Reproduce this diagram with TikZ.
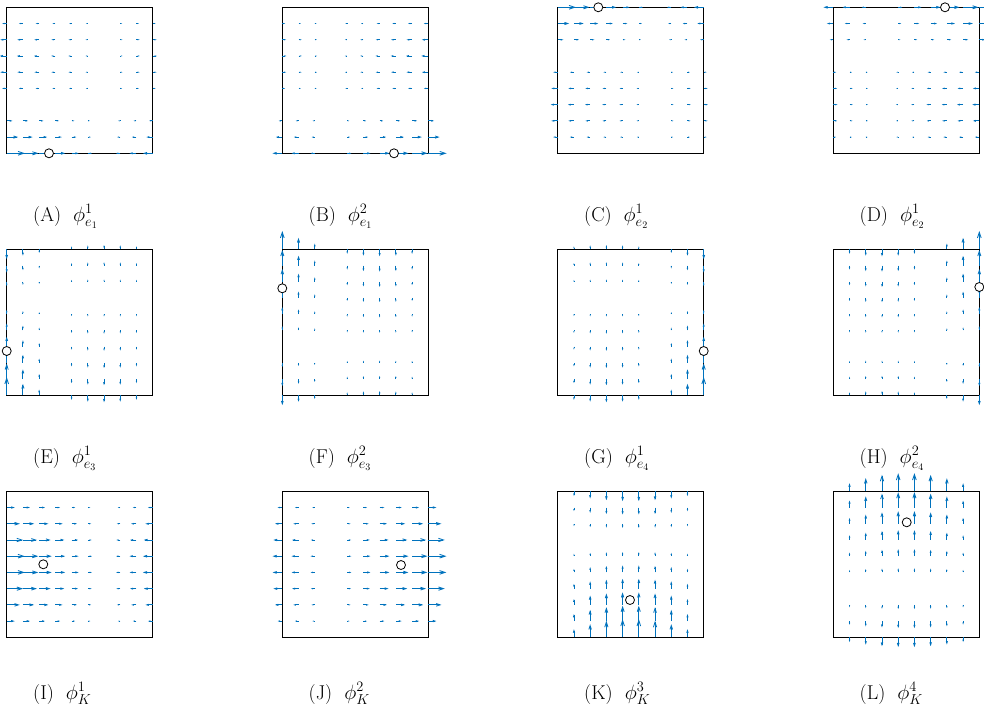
\documentclass[tikz,border=0pt]{standalone}
\usetikzlibrary{calc}
\definecolor{qblue}{RGB}{0,114,189}
\tikzset{
 panel/.style={draw=black, line width=0.8pt, minimum size=146pt, inner sep=0pt, outer sep=0pt},
 qarrow/.style={draw=qblue, line width=0.85pt},
 dofc/.style={circle, draw=black, fill=white, line width=0.8pt, minimum size=9pt, inner sep=0pt},
 lab/.style={anchor=base west, inner sep=0pt, font=\fontsize{20}{24}\selectfont},
}
\newcommand{\qfield}[1]{%
 \ifcase#1\relax
 \or \pgfmathsetmacro{\qU}{(2-3*\qX)*(1-\qY)*(1-3*\qY)}\def\qV{0}%
 \or \pgfmathsetmacro{\qU}{(3*\qX-1)*(1-\qY)*(1-3*\qY)}\def\qV{0}%
 \or \pgfmathsetmacro{\qU}{(2-3*\qX)*\qY*(3*\qY-2)}\def\qV{0}%
 \or \pgfmathsetmacro{\qU}{(3*\qX-1)*\qY*(3*\qY-2)}\def\qV{0}%
 \or \def\qU{0}\pgfmathsetmacro{\qV}{(1-\qX)*(1-3*\qX)*(2-3*\qY)}%
 \or \def\qU{0}\pgfmathsetmacro{\qV}{(1-\qX)*(1-3*\qX)*(3*\qY-1)}%
 \or \def\qU{0}\pgfmathsetmacro{\qV}{\qX*(3*\qX-2)*(2-3*\qY)}%
 \or \def\qU{0}\pgfmathsetmacro{\qV}{\qX*(3*\qX-2)*(3*\qY-1)}%
 \or \pgfmathsetmacro{\qU}{(2-3*\qX)*4*\qY*(1-\qY)}\def\qV{0}%
 \or \pgfmathsetmacro{\qU}{(3*\qX-1)*4*\qY*(1-\qY)}\def\qV{0}%
 \or \def\qU{0}\pgfmathsetmacro{\qV}{4*\qX*(1-\qX)*(2-3*\qY)}%
 \or \def\qU{0}\pgfmathsetmacro{\qV}{4*\qX*(1-\qX)*(3*\qY-1)}%
 \fi}
\newcommand{\qpanel}[4]{% name, left, top, field id
 \node[panel] (#1) at ({#2+73},{#3+73}) {};
 \foreach \qi in {0,...,9}{\foreach \qj in {0,...,9}{%
   \pgfmathsetmacro{\qX}{\qi/9}%
   \pgfmathsetmacro{\qY}{\qj/9}%
   \qfield{#4}%
   \pgfmathsetmacro{\qdu}{8.5*\qU}%
   \pgfmathsetmacro{\qdv}{-8.5*\qV}%
   \pgfmathsetmacro{\qlen}{abs(\qdu)+abs(\qdv)}%
   \ifdim\qlen pt>0.05pt
     \pgfmathsetmacro{\qbx}{#2+146*\qX}%
     \pgfmathsetmacro{\qby}{#3+146*(1-\qY)}%
     \pgfmathsetmacro{\qtx}{\qbx+\qdu}%
     \pgfmathsetmacro{\qty}{\qby+\qdv}%
     \pgfmathsetmacro{\qax}{\qtx-0.33*\qdu-0.109*\qdv}%
     \pgfmathsetmacro{\qay}{\qty-0.33*\qdv+0.109*\qdu}%
     \pgfmathsetmacro{\qcx}{\qtx-0.33*\qdu+0.109*\qdv}%
     \pgfmathsetmacro{\qcy}{\qty-0.33*\qdv-0.109*\qdu}%
     \draw[qarrow] (\qbx,\qby) -- (\qtx,\qty);
     \draw[qarrow] (\qax,\qay) -- (\qtx,\qty) -- (\qcx,\qcy);
   \fi
 }}%
}
\begin{document}
\begin{tikzpicture}[x=1pt,y=-1pt]
\useasboundingbox (0,0) rectangle (984,715);
% row 1
\qpanel{pA}{6.7}{7.3}{1}
\qpanel{pB}{282.3}{7.3}{2}
\qpanel{pC}{557.7}{7.3}{3}
\qpanel{pD}{833.3}{7.3}{4}
% row 2
\qpanel{pE}{6.7}{249.3}{5}
\qpanel{pF}{282.3}{249.3}{6}
\qpanel{pG}{557.7}{249.3}{7}
\qpanel{pH}{833.3}{249.3}{8}
% row 3
\qpanel{pI}{6.7}{491.3}{9}
\qpanel{pJ}{282.3}{491.3}{10}
\qpanel{pK}{557.7}{491.3}{11}
\qpanel{pL}{833.3}{491.3}{12}
% dof circles
\node[dofc] (cA) at (49,153.3) {};
\node[dofc] (cB) at (394,153.3) {};
\node[dofc] (cC) at (598.3,7.3) {};
\node[dofc] (cD) at (945,7.3) {};
\node[dofc] (cE) at (6.7,351) {};
\node[dofc] (cF) at (282.3,288.3) {};
\node[dofc] (cG) at (703.7,351) {};
\node[dofc] (cH) at (979.3,287) {};
\node[dofc] (cI) at (43.3,564.3) {};
\node[dofc] (cJ) at (401,565) {};
\node[dofc] (cK) at (630,600) {};
\node[dofc] (cL) at (906.7,522.3) {};
% labels
\node[lab] (lA) at (33,221) {(A)\hspace{0.6em}$\phi^1_{e_1}$};
\node[lab] (lB) at (308.5,221) {(B)\hspace{0.6em}$\phi^2_{e_1}$};
\node[lab] (lC) at (584,221) {(C)\hspace{0.6em}$\phi^1_{e_2}$};
\node[lab] (lD) at (859.5,221) {(D)\hspace{0.6em}$\phi^1_{e_2}$};
\node[lab] (lE) at (33,463) {(E)\hspace{0.6em}$\phi^1_{e_3}$};
\node[lab] (lF) at (308.5,463) {(F)\hspace{0.6em}$\phi^2_{e_3}$};
\node[lab] (lG) at (584,463) {(G)\hspace{0.6em}$\phi^1_{e_4}$};
\node[lab] (lH) at (859.5,463) {(H)\hspace{0.6em}$\phi^2_{e_4}$};
\node[lab] (lI) at (33,699) {(I)\hspace{0.6em}$\phi^1_{K}$};
\node[lab] (lJ) at (308.5,699) {(J)\hspace{0.6em}$\phi^2_{K}$};
\node[lab] (lK) at (584,699) {(K)\hspace{0.6em}$\phi^3_{K}$};
\node[lab] (lL) at (859.5,699) {(L)\hspace{0.6em}$\phi^4_{K}$};
\end{tikzpicture}
\end{document}
